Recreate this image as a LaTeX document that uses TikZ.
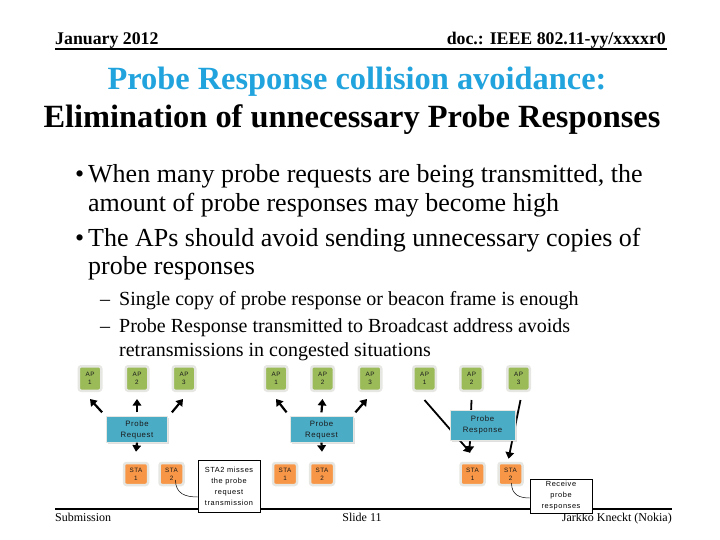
\documentclass[tikz,border=0pt]{standalone}
\usepackage{fontspec}
\setmainfont{Liberation Serif}
\newfontfamily\diagfont[LetterSpace=8]{Liberation Sans}
\usetikzlibrary{arrows.meta,shadows}
\definecolor{prTitle}{HTML}{21A3DD}
\definecolor{prGreen}{HTML}{9BBB59}
\definecolor{prBlue}{HTML}{4BACC6}
\definecolor{prOrange}{HTML}{F79646}
\definecolor{prRim}{HTML}{E6E6E2}
\definecolor{prInk}{HTML}{1A1A1A}
\tikzset{
  pr rule/.style={draw=black, line width=2pt},
  pr head/.style={font=\fontsize{17.8}{21}\selectfont\bfseries, inner sep=0pt},
  pr title/.style={font=\fontsize{32.4}{38}\selectfont\bfseries, inner sep=0pt, anchor=base},
  pr bullet/.style={font=\fontsize{26}{28.5}\selectfont, inner sep=0pt, anchor=base west, align=left},
  pr sub/.style={font=\fontsize{20}{24}\selectfont, inner sep=0pt, anchor=base west, align=left},
  pr foot/.style={font=\fontsize{12}{14}\selectfont, inner sep=0pt},
  pr ap/.style={draw=prRim, line width=2.5pt, rounded corners=2.5pt, fill=prGreen, minimum width=22.5pt, minimum height=24.5pt, inner sep=0pt, align=center, text=prInk, font=\diagfont\fontsize{6.3}{8}\selectfont},
  pr sta/.style={pr ap, fill=prOrange, minimum width=24pt, minimum height=22pt},
  pr msg/.style={draw=prRim, line width=0.8pt, fill=prBlue, drop shadow={opacity=0.25, shadow xshift=1.5pt, shadow yshift=-1.5pt}, inner sep=0pt, align=center, text=prInk, font=\diagfont\fontsize{7.8}{11}\selectfont},
  pr note/.style={draw=black, line width=0.6pt, fill=white, inner sep=0pt, align=center, text=black, font=\diagfont\fontsize{7.4}{11}\selectfont},
  pr arrow/.style={draw=black, line width=2.2pt, -{Triangle[length=6.5pt,width=8.5pt]}},
  pr lead/.style={draw=black, line width=0.5pt},
}

\begin{document}
\begin{tikzpicture}[x=1pt,y=-1pt]
  \useasboundingbox (0,0) rectangle (720,540);
  % slide header
  \node[pr head, anchor=base west] (date) at (55,45) {January 2012};
  \node[pr head, anchor=base east] (docid) at (666,45) {doc.: IEEE 802.11-yy/xxxxr0};
  \draw[pr rule] (55,49) -- (667,49);
  \node[pr title, text=prTitle] (title) at (357,90) {Probe Response collision avoidance:};
  \node[pr title] (subtitle) at (352,128) {Elimination of unnecessary Probe Responses};

  % bullets (a node with two lines sits on its last baseline)
  \node[pr bullet] (dot1) at (75,183) {\textbullet};
  \node[pr bullet] (item1) at (88,211.5) {When many probe requests are being transmitted, the\\amount of probe responses may become high};
  \node[pr bullet] (dot2) at (75,246) {\textbullet};
  \node[pr bullet] (item2) at (88,274.5) {The APs should avoid sending unnecessary copies of\\probe responses};
  \node[pr sub] (dash1) at (100,305) {\textendash};
  \node[pr sub] (sub1) at (119,305) {Single copy of probe response or beacon frame is enough};
  \node[pr sub] (dash2) at (100,332) {\textendash};
  \node[pr sub] (sub2) at (119,356) {Probe Response transmitted to Broadcast address avoids\\retransmissions in congested situations};

  % footer
  \draw[pr rule] (55,509) -- (672,509);
  \node[pr foot, anchor=base west] (submission) at (55,521) {Submission};
  \node[pr foot, anchor=base] (slideno) at (362,521) {Slide 11};
  \node[pr foot, anchor=base east] (author) at (672,521) {Jarkko Kneckt (Nokia)};

  % case 1: STA1 asks, STA2 misses it
  \foreach \i/\x in {1/90,2/137,3/184} \node[pr ap] (apl\i) at (\x,378.5) {AP\\\i};
  \node[pr msg, minimum width=61pt, minimum height=25.5pt] (reql) at (137,429.5) {Probe\\Request};
  \node[pr sta] (stal1) at (136,474) {STA\\1};
  \node[pr sta] (stal2) at (171.5,474) {STA\\2};
  \draw[pr arrow] ([shift={(-4pt,4pt)}]reql.north west) -- ([yshift=-7pt]apl1.south);
  \draw[pr arrow] ([yshift=4pt]reql.north) -- ([yshift=-7pt]apl2.south);
  \draw[pr arrow] ([shift={(4pt,4pt)}]reql.north east) -- ([shift={(-1pt,-7pt)}]apl3.south);
  \draw[pr arrow] (reql.south) -- ([yshift=10pt]stal1.north);
  \node[pr note, minimum width=62pt, minimum height=52pt] (miss) at (229,486) {STA2 misses\\the probe\\request\\transmission};
  \draw[pr lead] ([shift={(4pt,-6pt)}]stal2.center) .. controls +(0,14) and +(-12,0) .. ([yshift=-11pt]miss.west);

  % case 2: STA2 asks, every AP hears it
  \foreach \i/\x in {1/276,2/322.5,3/370} \node[pr ap] (apm\i) at (\x,378.5) {AP\\\i};
  \node[pr msg, minimum width=63pt, minimum height=25.5pt] (reqm) at (321.5,429.5) {Probe\\Request};
  \node[pr sta] (stam1) at (285,474) {STA\\1};
  \node[pr sta] (stam2) at (322,474) {STA\\2};
  \draw[pr arrow] ([shift={(-3pt,4pt)}]reqm.north west) -- ([yshift=-7pt]apm1.south);
  \draw[pr arrow] ([yshift=4pt]reqm.north) -- ([yshift=-7pt]apm2.south);
  \draw[pr arrow] ([shift={(2pt,4pt)}]reqm.north east) -- ([shift={(-3pt,-7pt)}]apm3.south);
  \draw[pr arrow] (reqm.south) -- ([yshift=10pt]stam2.north);

  % case 3: one response reaches both stations
  \foreach \i/\x in {1/424.5,2/471.5,3/518.5} \node[pr ap] (apr\i) at (\x,378.5) {AP\\\i};
  \node[pr sta] (star1) at (472.5,474) {STA\\1};
  \node[pr sta] (star2) at (510.5,474) {STA\\2};
  \draw[pr arrow, line width=1.8pt] ([yshift=-8pt]apr1.south) -- ([shift={(-2pt,9pt)}]star1.north);
  \draw[pr arrow, line width=1.8pt] ([yshift=-8pt]apr2.south) -- ([shift={(-3pt,9pt)}]star1.north);
  \draw[pr arrow, line width=1.8pt] ([shift={(2pt,-8pt)}]apr3.south) -- ([shift={(-2pt,3pt)}]star2.north);
  \node[pr msg, minimum width=65pt, minimum height=30pt] (resp) at (482.5,425) {Probe\\Response};
  \node[pr note, minimum width=62pt, minimum height=34pt] (recv) at (561,496) {Receive\\probe\\responses};
  \draw[pr lead] ([shift={(1pt,-9pt)}]star2.center) .. controls +(0,12) and +(-10,0) .. ([yshift=-2pt]recv.west);
\end{tikzpicture}
\end{document}
